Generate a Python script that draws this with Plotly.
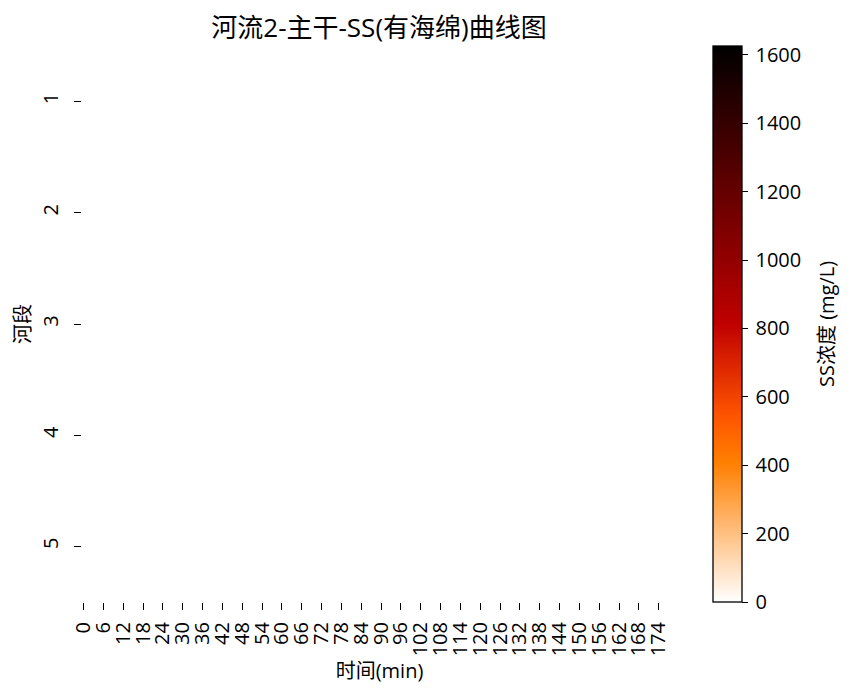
import plotly.graph_objects as go

# ---- data ----
time_min = list(range(0, 180))             # one column per minute
tick_times = list(range(0, 180, 6))        # labelled every 6 min: 0..174
segments = [1, 2, 3, 4, 5]                 # 河段
ss_values = [[0.0] * len(time_min) for _ in segments]   # all cells appear white (≈0 mg/L)
z_min, z_max = 0, 1626
cbar_ticks = [0, 200, 400, 600, 800, 1000, 1200, 1400, 1600]

# gist_heat_r colorscale
def gist_heat(x):
    c = lambda v: max(0.0, min(1.0, v))
    return c(1.5 * x), c(2 * x - 1), c(4 * x - 3)

stops = []
n = 40
for i in range(n + 1):
    t = i / n
    r, g, b = gist_heat(1 - t)
    stops.append([t, f"rgb({round(r*255)},{round(g*255)},{round(b*255)})"])

FONT = "Open Sans, Noto Sans CJK SC, sans-serif"
FS = 20
L, R, T, B = 82, 174, 46, 96
W, H = 851, 698

fig = go.Figure(go.Heatmap(
    z=ss_values, x=time_min, y=segments,
    zmin=z_min, zmax=z_max, colorscale=stops,
    colorbar=dict(
        tickvals=cbar_ticks, ticktext=["\u2009" + str(v) for v in cbar_ticks],
        ticks="outside", ticklen=6, tickcolor="black",
        tickfont=dict(size=FS, color="black"),
        thickness=29, len=1, lenmode="fraction", y=0.5, yanchor="middle",
        x=(713 - L) / (W - L - R), xanchor="left", xpad=0, ypad=0,
        outlinewidth=1.3, outlinecolor="black",
    ),
))

fig.add_annotation(
    text="SS浓度 (mg/L)", xref="paper", yref="paper",
    x=(826 - L) / (W - L - R), y=0.5, xanchor="center", yanchor="middle",
    textangle=-90, showarrow=False, font=dict(size=FS, color="black"),
)

fig.update_layout(
    width=W, height=H,
    margin=dict(l=L, r=R, t=T, b=B, autoexpand=False),
    paper_bgcolor="white", plot_bgcolor="white",
    font=dict(family=FONT, color="black"),
    title=dict(text="河流2-主干-SS(有海绵)曲线图", x=379 / W, xanchor="center",
               y=1 - 28 / H, yanchor="middle", font=dict(size=26, color="black")),
    xaxis=dict(
        title=dict(text="时间(min)", font=dict(size=FS), standoff=8),
        tickvals=tick_times, ticktext=[str(t) for t in tick_times], tickangle=-90,
        range=[-0.5, 179.5], ticks="outside", ticklen=7, tickcolor="black",
        tickfont=dict(size=FS), ticklabelstandoff=4,
        showgrid=False, zeroline=False, showline=False, automargin=False,
    ),
    yaxis=dict(
        title=dict(text="河段", font=dict(size=FS), standoff=1),
        tickvals=segments, ticktext=[str(s) for s in segments], tickangle=-90,
        range=[5.5, 0.5], ticks="outside", ticklen=7, tickcolor="black",
        tickfont=dict(size=FS), ticklabelstandoff=8,
        showgrid=False, zeroline=False, showline=False, automargin=False,
    ),
)

fig.write_html("out.html")
